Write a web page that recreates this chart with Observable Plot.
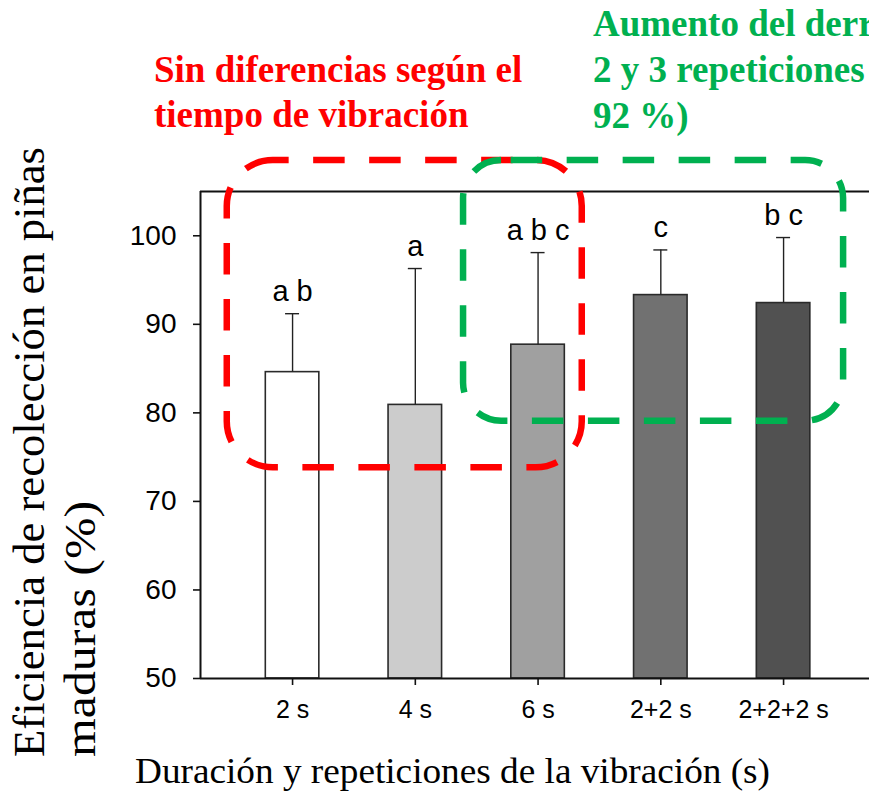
<!DOCTYPE html>
<html><head><meta charset="utf-8">
<script src="https://cdn.jsdelivr.net/npm/d3@7"></script>
<script src="https://cdn.jsdelivr.net/npm/@observablehq/plot@0.6"></script>
<style>html,body{margin:0;padding:0;background:#fff;overflow:hidden;width:869px;height:795px}</style>
</head><body><div id="chart"></div>
<script>
// ---- data ----
const categories = ["2 s", "4 s", "6 s", "2+2 s", "2+2+2 s"];
const means = [84.6, 80.9, 87.7, 93.3, 92.4];
const errUpper = [91.2, 96.3, 98.1, 98.4, 99.8];
const letters = ["a b", "a", "a b c", "c", "b c"];
const yTicks = [50, 60, 70, 80, 90, 100];
const yDomain = [50, 105];
const xDomain = [-0.75, 4.7];
// annotation boxes in data units (x = category index, y = %)
const redBox = [{x1: -0.532, x2: 2.36, y1: 73.8, y2: 108.5}];
const greenBox = [{x1: 1.393, x2: 4.489, y1: 79.06, y2: 108.5}];
const redText = ["Sin diferencias según el", "tiempo de vibración"];
const greenText = ["Aumento del derribo con", "2 y 3 repeticiones", "92 %)"];
const xTitle = "Duración y repeticiones de la vibración (s)";
const yTitle = ["Eficiencia de recolección en piñas", "maduras (%)"];

// ---- styles ----
const barColors = ["#FFFFFF", "#CCCCCC", "#A0A0A0", "#717171", "#515151"];
const RED = "#FF0000", GREEN = "#00B050";
const halfBar = 0.218, halfCap = 0.057;

const rows = categories.map((c, i) => ({i, cat: c, mean: means[i], upper: errUpper[i], letter: letters[i], color: barColors[i]}));

const plot = Plot.plot({
  width: 869, height: 795,
  marginLeft: 200, marginRight: 0, marginTop: 191, marginBottom: 117,
  style: {fontFamily: "'Liberation Sans', Arial, sans-serif", background: "white", overflow: "visible", color: "#000"},
  x: {domain: xDomain, axis: null},
  y: {domain: yDomain, axis: null},
  color: {type: "identity"},
  marks: [
    Plot.rectY(rows, {x1: d => d.i - halfBar, x2: d => d.i + halfBar, y1: yDomain[0], y2: "mean", fill: "color", stroke: "#2a2a2a", strokeWidth: 1.6}),
    Plot.ruleX(rows, {x: "i", y1: "mean", y2: "upper", stroke: "#222", strokeWidth: 1.4}),
    Plot.ruleY(rows, {y: "upper", x1: d => d.i - halfCap, x2: d => d.i + halfCap, stroke: "#222", strokeWidth: 1.4}),
    Plot.text(rows, {x: "i", y: "upper", text: "letter", dy: -13, lineAnchor: "bottom", fontSize: 29, fill: "#000"}),
    Plot.ruleY([yDomain[0], yDomain[1]], {stroke: "#111", strokeWidth: 2}),
    Plot.ruleX([xDomain[0]], {y1: yDomain[0], y2: yDomain[1], stroke: "#111", strokeWidth: 2}),
    Plot.axisY(yTicks, {tickSize: 7, tickPadding: 17, fontSize: 28, label: null, stroke: "#111", strokeWidth: 1.6, fill: "#000"}),
    Plot.axisX(d3.range(categories.length), {tickFormat: i => categories[i], tickSize: 7, tickPadding: 15, fontSize: 25, label: null, stroke: "#111", strokeWidth: 1.6, fill: "#000"}),
    Plot.rect(redBox, {x1: "x1", x2: "x2", y1: "y1", y2: "y2", fill: "none", stroke: RED, strokeWidth: 6.5, strokeDasharray: "31.5,24.5", strokeDashoffset: 15.6, rx: 46}),
    Plot.rect(greenBox, {x1: "x1", x2: "x2", y1: "y1", y2: "y2", fill: "none", stroke: GREEN, strokeWidth: 6.5, strokeDasharray: "31.5,24.5", strokeDashoffset: 46.4, rx: 38})
  ]
});

document.getElementById("chart").appendChild(plot);

const svg = d3.select(plot);
const serif = "'Liberation Serif', 'Times New Roman', serif";

// annotation texts
const tr = svg.append("g").attr("font-family", serif).attr("font-weight", "bold").attr("font-size", 37).attr("fill", RED).attr("text-anchor", "start");
tr.selectAll("text").data(redText).join("text").attr("x", 154).attr("y", (d, k) => 82 + k * 45).text(d => d);
const tg = svg.append("g").attr("font-family", serif).attr("font-weight", "bold").attr("font-size", 37).attr("fill", GREEN).attr("text-anchor", "start");
tg.selectAll("text").data(greenText).join("text").attr("x", 593).attr("y", (d, k) => 36 + k * 46).text(d => d);

// axis titles
svg.append("text").attr("font-family", serif).attr("font-size", 35).attr("fill", "#000").attr("text-anchor", "start")
  .attr("x", 135).attr("y", 783).attr("textLength", 635).attr("lengthAdjust", "spacingAndGlyphs").text(xTitle);

const yt = svg.append("g").attr("font-family", serif).attr("font-size", 45).attr("fill", "#000").attr("text-anchor", "start");
const yLens = [610, 256];
const yBase = [44, 95];
yTitle.forEach((t, k) => {
  yt.append("text").attr("transform", `translate(${yBase[k]},757) rotate(-90)`)
    .attr("textLength", yLens[k]).attr("lengthAdjust", "spacingAndGlyphs").text(t);
});
</script></body></html>
